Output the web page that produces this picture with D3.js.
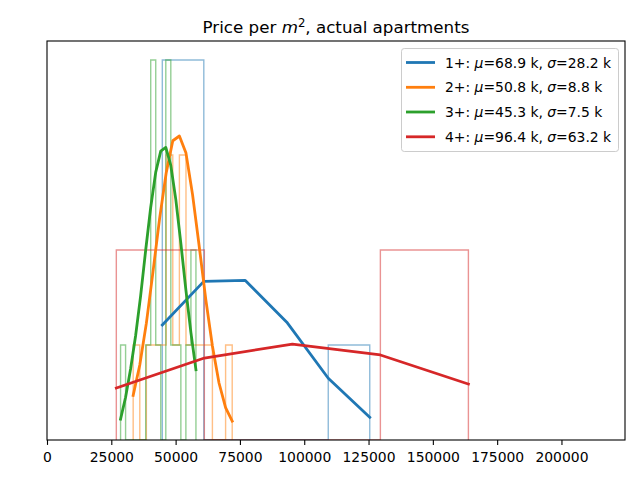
<!DOCTYPE html>
<html>
<head>
<meta charset="utf-8">
<script src="https://cdn.jsdelivr.net/npm/d3@7"></script>
<style>
  html, body { margin: 0; padding: 0; background: #fff; }
  svg { display: block; font-family: "DejaVu Sans", sans-serif; }
</style>
</head>
<body>
<svg id="chart" width="640" height="480"></svg>
<script>
// ---------- data ----------
const seriesNames = ["1+", "2+", "3+", "4+"];
const seriesMu = ["68.9", "50.8", "45.3", "96.4"];
const seriesSigma = ["28.2", "8.8", "7.5", "63.2"];
const seriesColors = ["#1f77b4", "#ff7f0e", "#2ca02c", "#d62728"];

const edges1 = [44830, 60960, 77090, 93220, 109340, 125470];
const counts1 = [4, 0, 0, 0, 1];
const fit1 = [1.21, 1.67, 1.68, 1.24, 0.65, 0.24];

const edges2 = [33500, 36070, 38630, 41200, 43770, 46330, 48900, 51470, 54030, 56600, 59170, 61730, 64300, 66870, 69430, 72000];
const counts2 = [1, 0, 1, 1, 1, 3, 1, 3, 1, 1, 1, 1, 0, 0, 1];
const fit2 = [0.47, 0.79, 1.23, 1.77, 2.33, 2.81, 3.15, 3.2, 3.02, 2.58, 2.04, 1.48, 0.99, 0.6, 0.34, 0.2];

const edges3 = [28600, 30550, 32510, 34460, 36410, 38370, 40320, 42270, 44220, 46180, 48130, 50080, 52040, 53990, 55950, 57900];
const counts3 = [1, 0, 0, 0, 0, 1, 4, 1, 0, 4, 1, 1, 0, 1, 2];
const fit3 = [0.22, 0.45, 0.75, 1.1, 1.52, 2.0, 2.45, 2.82, 3.04, 3.08, 2.89, 2.53, 2.07, 1.58, 1.13, 0.74];

const edges4 = [26950, 61170, 95390, 129600, 163820];
const counts4 = [2, 0, 0, 2];
const fit4 = [0.547, 0.863, 1.01, 0.895, 0.589];

const xTicks = [0, 25000, 50000, 75000, 100000, 125000, 150000, 175000, 200000];
const xDomain = [0, 224700];
const yMaxCount = 4;

// ---------- layout ----------
const svg = d3.select("#chart");
const pLeft = 47, pRight = 625, pTop = 41, pBottom = 440;
const x = d3.scaleLinear().domain(xDomain).range([pLeft, pRight]);
const y = d3.scaleLinear().domain([0, yMaxCount * 1.05]).range([pBottom, pTop]);

const series = [
  { edges: edges1, counts: counts1, fit: fit1 },
  { edges: edges2, counts: counts2, fit: fit2 },
  { edges: edges3, counts: counts3, fit: fit3 },
  { edges: edges4, counts: counts4, fit: fit4 }
];

const plot = svg.append("g");
plot.append("defs").append("clipPath").attr("id", "clip")
  .append("rect").attr("x", pLeft).attr("y", pTop).attr("width", pRight - pLeft).attr("height", pBottom - pTop);
const g = plot.append("g").attr("clip-path", "url(#clip)");

// step histograms
series.forEach((s, i) => {
  const pts = [[s.edges[0], 0]];
  s.counts.forEach((c, k) => {
    pts.push([s.edges[k], c]);
    pts.push([s.edges[k + 1], c]);
  });
  pts.push([s.edges[s.edges.length - 1], 0]);
  g.append("path")
    .attr("d", d3.line().x(d => x(d[0])).y(d => y(d[1]))(pts))
    .attr("fill", "none")
    .attr("stroke", seriesColors[i])
    .attr("stroke-opacity", 0.5)
    .attr("stroke-width", 1.4)
    .attr("stroke-linejoin", "miter");
});

// fitted lines
series.forEach((s, i) => {
  const pts = s.edges.map((e, k) => [e, s.fit[k]]);
  g.append("path")
    .attr("d", d3.line().x(d => x(d[0])).y(d => y(d[1]))(pts))
    .attr("fill", "none")
    .attr("stroke", seriesColors[i])
    .attr("stroke-width", 2.8)
    .attr("stroke-linecap", "square")
    .attr("stroke-linejoin", "round");
});

// frame
svg.append("rect")
  .attr("x", pLeft).attr("y", pTop).attr("width", pRight - pLeft).attr("height", pBottom - pTop)
  .attr("fill", "none").attr("stroke", "#000").attr("stroke-width", 1.1);

// x axis
const xAxis = d3.axisBottom(x).tickValues(xTicks).tickFormat(d => String(d))
  .tickSize(4.9).tickPadding(7.5);
const ax = svg.append("g").attr("transform", `translate(0,${pBottom})`).call(xAxis);
ax.select(".domain").remove();
ax.selectAll(".tick line").attr("stroke", "#000").attr("stroke-width", 1.1);
ax.selectAll(".tick text").attr("fill", "#000").style("font-size", "13.9px")
  .style("font-family", "DejaVu Sans, sans-serif");

// title
const title = svg.append("text")
  .attr("x", (pLeft + pRight) / 2).attr("y", 33)
  .attr("text-anchor", "middle")
  .style("font-size", "16.7px").attr("fill", "#000");
title.append("tspan").text("Price per ");
title.append("tspan").text("m").style("font-style", "italic");
title.append("tspan").text("2").attr("dy", -6).style("font-size", "11.7px");
title.append("tspan").text(", actual apartments").attr("dy", 6);

// legend
const lg = svg.append("g");
lg.append("rect")
  .attr("x", 401.5).attr("y", 48.5).attr("width", 217).attr("height", 103)
  .attr("rx", 2.8).attr("ry", 2.8)
  .attr("fill", "#fff").attr("fill-opacity", 0.8)
  .attr("stroke", "#cccccc").attr("stroke-width", 1);
const rowY = [62.5, 87.3, 112, 136.8];
seriesNames.forEach((name, i) => {
  lg.append("line")
    .attr("x1", 406).attr("x2", 435)
    .attr("y1", rowY[i]).attr("y2", rowY[i])
    .attr("stroke", seriesColors[i]).attr("stroke-width", 2.8);
  const t = lg.append("text")
    .attr("x", 445).attr("y", rowY[i] + 5)
    .style("font-size", "13.9px").attr("fill", "#000");
  t.append("tspan").text(name + ": ");
  t.append("tspan").text("μ").style("font-style", "italic");
  t.append("tspan").text("=" + seriesMu[i] + " k, ");
  t.append("tspan").text("σ").style("font-style", "italic");
  t.append("tspan").text("=" + seriesSigma[i] + " k");
});
</script>
</body>
</html>
